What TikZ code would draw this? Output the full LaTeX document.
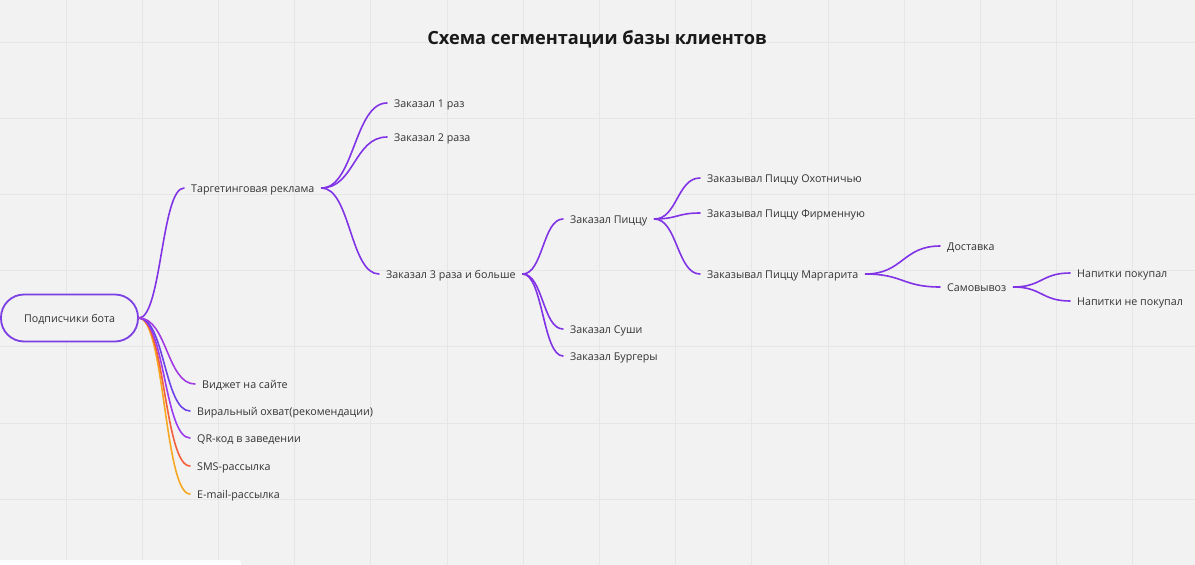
\documentclass[tikz,border=0pt]{standalone}
\usepackage{fontspec}
\setmainfont{Open Sans}
\usetikzlibrary{calc}
\definecolor{bg}{HTML}{F2F2F2}
\definecolor{gridc}{HTML}{E6E6E6}
\definecolor{txt}{HTML}{333333}
\definecolor{vio}{HTML}{8134E6}
\definecolor{rootc}{HTML}{7B3FE4}
\definecolor{cvid}{HTML}{A23BE2}
\definecolor{cvir}{HTML}{6D42E8}
\definecolor{cqr}{HTML}{9C3CF0}
\definecolor{csms}{HTML}{F2603C}
\definecolor{cmail}{HTML}{F7A823}
\newcommand\mmlink[3][vio]{\draw[conn,draw=#1] let \p1=(#2.east),\p2=(#3.west),\n1={(\x2-\x1)/2} in (\p1) .. controls +(\n1,0) and +(-\n1,0) .. (\p2);}
\begin{document}
\begin{tikzpicture}[x=1pt,y=-1pt,
  lbl/.style={anchor=west, inner xsep=7pt, inner ysep=2pt, text height=9pt, text depth=1pt, font=\fontsize{10.7}{12}\selectfont, text=txt},
  rootnode/.style={draw=rootc, line width=1.8pt, rounded corners=23pt, minimum width=137pt, minimum height=47pt, fill=bg, font=\fontsize{10.7}{12}\selectfont, text=txt, inner sep=0pt, text height=9pt, text depth=1pt},
  conn/.style={line width=1.6pt, line cap=round},
  gridline/.style={draw=gridc, line width=0.9pt},
  titlestyle/.style={font=\fontsize{18.2}{22}\selectfont\bfseries, text=black!90}]
\useasboundingbox (0,0) rectangle (1195,565);
\fill[bg] (0,0) rectangle (1195,565);
\foreach \i in {0,...,15} \draw[gridline] (66+76.2*\i,0) -- (66+76.2*\i,565);
\foreach \j in {0,...,6} \draw[gridline] (0,42+76.2*\j) -- (1195,42+76.2*\j);
\fill[white, rounded corners=3pt] (-5,560) rectangle (241,575);
\node[titlestyle] (title) at (597,39) {Схема сегментации базы клиентов};
\node[rootnode] (root) at (69.5,318) {Подписчики бота};
\node[lbl] (targ) at (184,188) {Таргетинговая реклама};
\node[lbl] (z1) at (387,103) {Заказал 1 раз};
\node[lbl] (z2) at (387,137) {Заказал 2 раза};
\node[lbl] (z3) at (379,274) {Заказал 3 раза и больше};
\node[lbl] (pizza) at (563,219) {Заказал Пиццу};
\node[lbl] (sushi) at (563,329) {Заказал Суши};
\node[lbl] (burg) at (563,356) {Заказал Бургеры};
\node[lbl] (oh) at (700,178) {Заказывал Пиццу Охотничью};
\node[lbl] (firm) at (700,213) {Заказывал Пиццу Фирменную};
\node[lbl] (marg) at (700,274) {Заказывал Пиццу Маргарита};
\node[lbl] (dost) at (940,246) {Доставка};
\node[lbl] (sam) at (940,287) {Самовывоз};
\node[lbl] (np) at (1070,273) {Напитки покупал};
\node[lbl] (nnp) at (1070,301) {Напитки не покупал};
\node[lbl] (vid) at (195,384) {Виджет на сайте};
\node[lbl] (vir) at (190,411) {Виральный охват(рекомендации)};
\node[lbl] (qr) at (190,438) {QR-код в заведении};
\node[lbl] (sms) at (190,466) {SMS-рассылка};
\node[lbl] (mail) at (190,494) {E-mail-рассылка};
\mmlink{root}{targ}
\mmlink{targ}{z1}
\mmlink{targ}{z2}
\mmlink{targ}{z3}
\mmlink{z3}{pizza}
\mmlink{z3}{sushi}
\mmlink{z3}{burg}
\mmlink{pizza}{oh}
\mmlink{pizza}{firm}
\mmlink{pizza}{marg}
\mmlink{marg}{dost}
\mmlink{marg}{sam}
\mmlink{sam}{np}
\mmlink{sam}{nnp}
\mmlink[cmail]{root}{mail}
\mmlink[csms]{root}{sms}
\mmlink[cqr]{root}{qr}
\mmlink[cvir]{root}{vir}
\mmlink[cvid]{root}{vid}
\end{tikzpicture}
\end{document}
